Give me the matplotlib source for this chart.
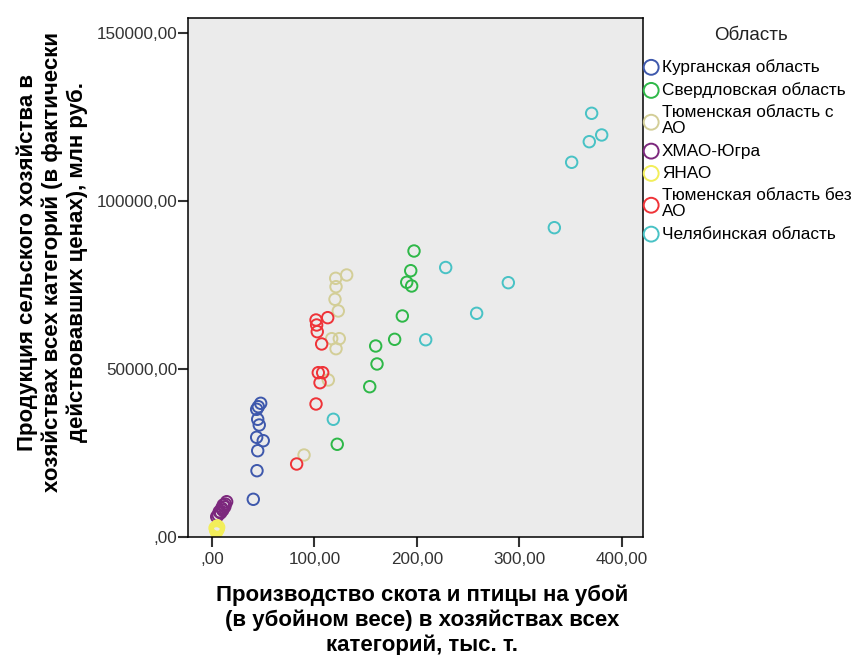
import matplotlib.pyplot as plt
from matplotlib.ticker import FuncFormatter

plt.rcParams['font.family'] = ['Liberation Sans', 'DejaVu Sans']

# data (x: тыс. т, y: млн руб.)
regions = ['Курганская область', 'Свердловская область', 'Тюменская область с\nАО',
           'ХМАО-Югра', 'ЯНАО', 'Тюменская область без\nАО', 'Челябинская область']
colors = ['#3E58AC', '#2EB848', '#D3CE97', '#7C287D', '#F2EE5A', '#EF3338', '#48C2C5']

kurgan_x = [47.5, 45.2, 43.6, 44.6, 46.1, 43.6, 50.0, 44.6, 43.9, 40.3]
kurgan_y = [39790, 38780, 38000, 35030, 33330, 29670, 28660, 25680, 19730, 11220]

sverd_x = [197.1, 193.9, 190.0, 194.8, 185.7, 178.2, 159.7, 161.0, 153.9, 122.2]
sverd_y = [85110, 79250, 75800, 74700, 65770, 58830, 56840, 51490, 44730, 27590]

tyum_ao_x = [131.4, 120.7, 121.0, 120.0, 123.2, 116.8, 124.2, 121.0, 113.5, 89.8]
tyum_ao_y = [77970, 76990, 74490, 70740, 67260, 59020, 59020, 56040, 46720, 24400]

hmao_x = [14.3, 13.0, 11.0, 12.5, 9.5, 10.5, 7.1, 8.5, 4.6, 6.0]
hmao_y = [10500, 9800, 9520, 9000, 8540, 8000, 7530, 7200, 6040, 6500]

yanao_x = [4.6, 5.5, 3.5, 6.5, 4.0, 5.0, 3.0, 6.0, 4.5, 5.2]
yanao_y = [2590, 3100, 2200, 2900, 1700, 2000, 2700, 2300, 1500, 3300]

tyum_x = [101.5, 102.1, 102.7, 112.9, 107.0, 103.7, 108.0, 105.4, 101.5, 82.6]
tyum_y = [64580, 63090, 61100, 65270, 57440, 48900, 48900, 45920, 39580, 21720]

chel_x = [118.4, 208.5, 228.0, 258.2, 289.1, 334.0, 350.9, 368.1, 370.4, 380.2]
chel_y = [35030, 58700, 80200, 66570, 75680, 92050, 111510, 117640, 126090, 119640]

xs = [kurgan_x, sverd_x, tyum_ao_x, hmao_x, yanao_x, tyum_x, chel_x]
ys = [kurgan_y, sverd_y, tyum_ao_y, hmao_y, yanao_y, tyum_y, chel_y]

W, H = 858, 655
fig = plt.figure(figsize=(W / 100, H / 100), dpi=100)
ax = fig.add_axes([188 / W, 1 - 537 / H, (643 - 188) / W, (537 - 18) / H])
ax.set_facecolor('#EBEBEB')

for x, y, c, name in zip(xs, ys, colors, regions):
    ax.scatter(x, y, s=68, facecolors='none', edgecolors=c, linewidths=1.4, label=name)

ax.set_xlim(-23.4, 420.5)
ax.set_ylim(0, 154450)
ax.set_xticks([0, 100, 200, 300, 400])
ax.set_yticks([0, 50000, 100000, 150000])

fmt = FuncFormatter(lambda v, p: ',00' if v == 0 else f'{v:.2f}'.replace('.', ','))
ax.xaxis.set_major_formatter(fmt)
ax.yaxis.set_major_formatter(fmt)
ax.tick_params(direction='out', length=7, width=1.5, labelsize=12.3, labelcolor='#333333',
               color='#333333')
ax.tick_params(axis='x', pad=3.5)
ax.tick_params(axis='y', pad=0.5)
for sp in ax.spines.values():
    sp.set_linewidth(1.1)

fig.text(52 / W, 1 - 262 / H,
         'Продукция сельского хозяйства в\nхозяйствах всех категорий (в фактически\nдействовавших ценах), млн руб.',
         rotation=90, ha='center', va='center', multialignment='center',
         fontsize=16, fontweight='bold')
fig.text(422 / W, 1 - 620 / H,
         'Производство скота и птицы на убой\n(в убойном весе) в хозяйствах всех\nкатегорий, тыс. т.',
         ha='center', va='center', multialignment='center',
         fontsize=16, fontweight='bold')

# legend title placed on its own, entries below it
fig.text(751 / W, 1 - 35 / H, 'Область', ha='center', va='center', fontsize=13.5, color='#222222')
leg = fig.legend(loc='upper left', bbox_to_anchor=(643 / W, 1 - 59 / H), frameon=False,
                 fontsize=12.4, handletextpad=0.15, handlelength=0.95, labelspacing=0.42,
                 markerscale=1.3, borderaxespad=0, borderpad=0)
for t in leg.get_texts():
    t.set_linespacing(1.1)

plt.savefig('out.png', dpi=100)
